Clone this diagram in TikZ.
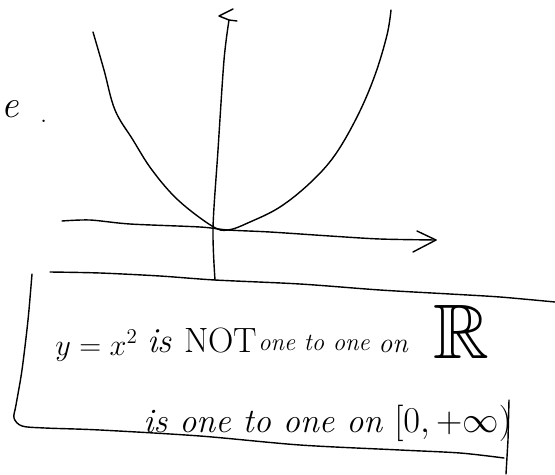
\documentclass[tikz,border=0pt]{standalone}
\usepackage{amssymb}
\tikzset{
  pen/.style={line width=0.8pt, line cap=round, line join=round},
  hand/.style={inner sep=0pt, anchor=base west},
}

\begin{document}
\begin{tikzpicture}[x=0.02cm, y=-0.02cm]
  \useasboundingbox (0,0) rectangle (555,474);

  % end of the line above
  \node[hand, font=\fontsize{22}{24}\selectfont\itshape] (cut) at (1,117) {e};
  \node[hand, font=\fontsize{14}{16}\selectfont] (stop) at (40,122) {.};

  % parabola
  \draw[pen] plot[smooth, tension=0.6] coordinates {(93,32) (104,70) (115,110) (133,140) (152,170) (178,200) (212,226) (228,230) (250,222) (280,207) (310,183) (335,155) (358,115) (375,75) (387,35) (391,10)};

  % x axis
  \draw[pen] plot[smooth, tension=0.5] coordinates {(62,221) (90,220) (130,224) (200,227) (228,230) (270,232) (330,236) (380,239) (436,240)};
  \draw[pen] (417,231) -- (436,240) -- (413,252);

  % y axis
  \draw[pen] plot[smooth, tension=0.5] coordinates {(215,280) (213,228) (218,150) (224,60) (229,20)};
  \draw[pen] (233,9) -- (219,16) -- (229,20) -- (237,21);

  % box round the text
  \draw[pen] plot[smooth, tension=0.5] coordinates {(50,272) (100,273) (160,276) (215,280) (300,284) (380,290) (450,294) (500,297) (555,302)};
  \draw[pen] plot[smooth, tension=0.5] coordinates {(32,274) (28,320) (22,370) (16,405) (14,418) (22,426) (45,428) (100,430) (200,436) (300,445) (400,450) (460,453) (504,458)};
  \draw[pen] (509,400) -- (508,440) -- (506,474);

  % first line
  \node[hand, font=\fontsize{17}{19}\selectfont] (eq) at (55,355) {$y=x^2$};
  \node[hand, font=\fontsize{20}{22}\selectfont] (isnot) at (147,352) {\itshape is \upshape NOT};
  \node[hand, font=\fontsize{14}{16}\selectfont\itshape] (oto) at (258,350) {one to one};
  \node[hand, font=\fontsize{16}{18}\selectfont\itshape] (on1) at (378,352) {on};
  \node[hand, font=\fontsize{44}{46}\selectfont] (R) at (433,358) {$\mathbb{R}$};

  % second line
  \node[hand, font=\fontsize{19.5}{21}\selectfont\itshape] (oto2) at (143,432) {is one to one on $[0,+\infty)$};
\end{tikzpicture}
\end{document}
